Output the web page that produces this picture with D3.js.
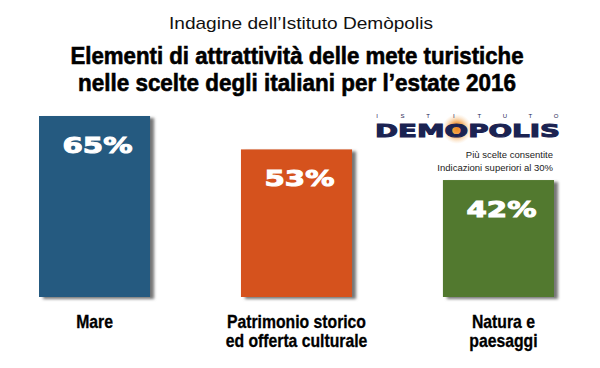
<!DOCTYPE html>
<html><head><meta charset="utf-8">
<script src="https://cdn.jsdelivr.net/npm/d3@7"></script>
<style>body{margin:0;background:#fff}svg{display:block}</style>
</head><body>
<script>
const categories = ["Mare", "Patrimonio storico\ned offerta culturale", "Natura e\npaesaggi"];
const values = [65, 53, 42];
const colors = ["#255a80", "#d5521d", "#52792f"];
const valueLabels = ["65%", "53%", "42%"];
const subtitle = "Indagine dell’Istituto Demòpolis";
const titleLines = ["Elementi di attrattività delle mete turistiche", "nelle scelte degli italiani per l’estate 2016"];
const noteLines = ["Più scelte consentite", "Indicazioni superiori al 30%"];

const W = 600, H = 368;
const svg = d3.select("body").append("svg").attr("width", W).attr("height", H);
const defs = svg.append("defs");
const f = defs.append("filter").attr("id", "sh").attr("x", "-20%").attr("y", "-20%").attr("width", "140%").attr("height", "140%");
f.append("feGaussianBlur").attr("stdDeviation", 1.6);
const rg = defs.append("radialGradient").attr("id", "glow");
rg.append("stop").attr("offset", "0%").attr("stop-color", "#f08a1c");
rg.append("stop").attr("offset", "45%").attr("stop-color", "#f3a24a").attr("stop-opacity", 0.9);
rg.append("stop").attr("offset", "100%").attr("stop-color", "#f8d7b0").attr("stop-opacity", 0);

const x = d3.scaleBand().domain(categories).range([39, 554]).paddingInner(0.45).paddingOuter(0);
const y = d3.scaleLinear().domain([0, 65]).range([297, 116]);

// titles
svg.append("text").attr("x", 301).attr("y", 29).attr("text-anchor", "middle")
  .attr("font-family", "Liberation Sans, Arial, sans-serif").attr("font-size", 17)
  .attr("textLength", 264).attr("lengthAdjust", "spacingAndGlyphs").attr("fill", "#111").text(subtitle);
const tl = [{y: 64, len: 453}, {y: 91, len: 438}];
titleLines.forEach((t, i) => {
  svg.append("text").attr("x", 297).attr("y", tl[i].y).attr("text-anchor", "middle")
    .attr("font-family", "Liberation Sans, Arial, sans-serif").attr("font-weight", "bold")
    .attr("font-size", 24).attr("textLength", tl[i].len).attr("lengthAdjust", "spacingAndGlyphs")
    .attr("fill", "#000").attr("stroke", "#000").attr("stroke-width", 0.6).text(t);
});

// bars
const g = svg.append("g");
g.selectAll("rect.sh").data(values).join("rect").attr("class", "sh")
  .attr("x", (d, i) => x(categories[i]) + 4).attr("y", d => y(d) + 2)
  .attr("width", x.bandwidth()).attr("height", d => y(0) - y(d))
  .attr("fill", "#777").attr("filter", "url(#sh)");
g.selectAll("rect.bar").data(values).join("rect").attr("class", "bar")
  .attr("x", (d, i) => x(categories[i])).attr("y", d => y(d))
  .attr("width", x.bandwidth()).attr("height", d => y(0) - y(d))
  .attr("fill", (d, i) => colors[i]);
g.selectAll("text.val").data(values).join("text").attr("class", "val")
  .attr("x", (d, i) => x(categories[i]) + x.bandwidth() / 2 + 3).attr("y", d => y(d) + 37)
  .attr("text-anchor", "middle").attr("font-family", "DejaVu Sans, sans-serif").attr("font-weight", "bold")
  .attr("font-size", 22).attr("textLength", 70).attr("lengthAdjust", "spacingAndGlyphs")
  .attr("fill", "#fff").attr("stroke", "#fff").attr("stroke-width", 1).text((d, i) => valueLabels[i]);

// category labels (condensed)
const labelShift = [0, 0, 5];
categories.forEach((c, i) => {
  const lines = c.split("\n");
  const cx = x(c) + x.bandwidth() / 2 + labelShift[i];
  const t = svg.append("text").attr("text-anchor", "middle")
    .attr("transform", `translate(${cx},0) scale(0.9,1)`)
    .attr("font-family", "Liberation Sans, Arial, sans-serif").attr("font-weight", "bold")
    .attr("font-size", 17.5).attr("fill", "#000").attr("stroke", "#000").attr("stroke-width", 0.3);
  lines.forEach((l, j) => {
    t.append("tspan").attr("x", 0).attr("y", 328 + j * 19).text(l);
  });
});

// logo
const logo = svg.append("g");
logo.append("circle").attr("cx", 457).attr("cy", 129).attr("r", 15).attr("fill", "url(#glow)");
const ist = "ISTITUTO".split("");
const lx = d3.scalePoint().domain(d3.range(ist.length)).range([377, 556]);
logo.selectAll("text.ist").data(ist).join("text").attr("class", "ist")
  .attr("x", (d, i) => lx(i)).attr("y", 118).attr("text-anchor", "middle")
  .attr("font-family", "Liberation Sans, Arial, sans-serif").attr("font-size", 6).attr("fill", "#1b2352").text(d => d);
logo.append("text").attr("x", 375).attr("y", 137)
  .attr("font-family", "DejaVu Sans, sans-serif").attr("font-weight", "bold").attr("font-size", 18)
  .attr("textLength", 185).attr("lengthAdjust", "spacingAndGlyphs")
  .attr("fill", "#1b2352").attr("stroke", "#1b2352").attr("stroke-width", 1).text("DEMOPOLIS");
noteLines.forEach((t, i) => {
  svg.append("text").attr("x", 553).attr("y", 158 + i * 13).attr("text-anchor", "end")
    .attr("font-family", "Liberation Sans, Arial, sans-serif").attr("font-size", 9.5).attr("fill", "#222").text(t);
});
</script>
</body></html>
